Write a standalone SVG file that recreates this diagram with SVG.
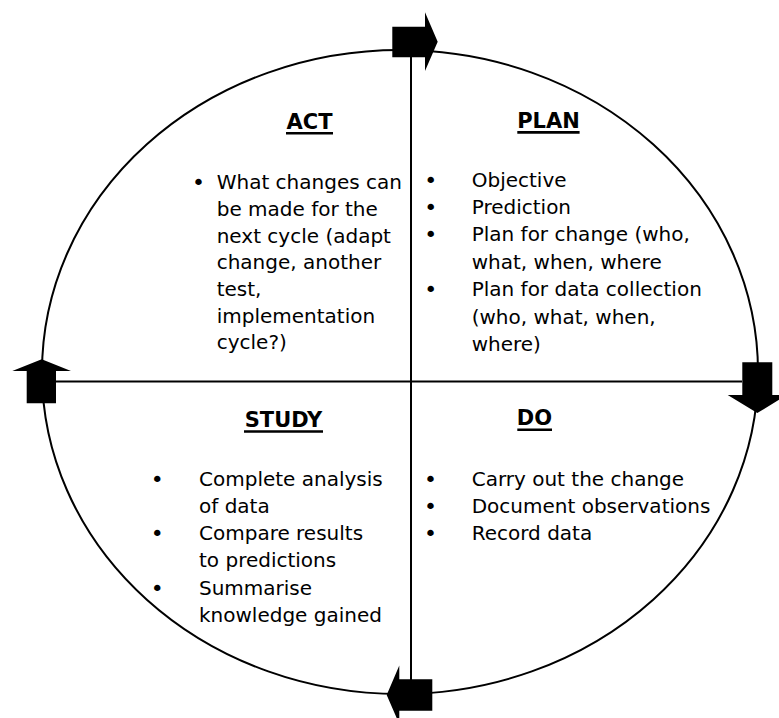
<svg xmlns="http://www.w3.org/2000/svg" width="779" height="718" viewBox="0 0 779 718">
  <style>
    .frame { fill: none; stroke: #000; stroke-width: 2; }
    .axis { stroke: #000; stroke-width: 2; }
    .arrow { fill: #000; stroke: none; }
    .title { font-family: "DejaVu Sans", Verdana, sans-serif; font-size: 21px; font-weight: bold; fill: #000; text-anchor: middle; }
    .uline { stroke: #000; stroke-width: 2.6; }
    .body { font-family: "DejaVu Sans", Verdana, sans-serif; font-size: 20px; fill: #000; }
    .dot { font-family: "DejaVu Sans", Verdana, sans-serif; font-size: 22px; fill: #000; text-anchor: middle; }
  </style>

  <rect width="779" height="718" fill="#fff"/>

  <!-- cycle outline and quadrant dividers -->
  <g id="frame">
    <ellipse class="frame" cx="400" cy="372" rx="358" ry="322"/>
    <line class="axis" x1="411" y1="57" x2="411" y2="680"/>
    <line class="axis" x1="56" y1="381.5" x2="742" y2="381.5"/>
  </g>

  <!-- clockwise block arrows on the cycle -->
  <g id="connectors">
    <path class="arrow" d="M392.3,26.7 H425 V12.3 L437.7,41.7 L425,71 V57.3 H392.3 Z"/>
    <path class="arrow" d="M742.3,362.3 H772.3 V395 H787 L757.3,413 L727.7,395 H742.3 Z"/>
    <path class="arrow" d="M432.3,679.3 V710.7 H399.3 V724 L386.7,695 L399.3,665.5 V679.3 Z"/>
    <path class="arrow" d="M26.7,403.3 V371 H12.3 L41.7,359.3 L71,371 H56 V403.3 Z"/>
  </g>

  <g id="act">
    <text class="title" x="309.5" y="129.3">ACT</text>
    <line class="uline" x1="286" y1="133.3" x2="333" y2="133.3"/>
    <text class="dot" x="198.5" y="190.3">•</text>
    <text class="body" x="216.7">
      <tspan x="216.7" y="189.3">What changes can</tspan>
      <tspan x="216.7" y="216">be made for the</tspan>
      <tspan x="216.7" y="242.7">next cycle (adapt</tspan>
      <tspan x="216.7" y="269.4">change, another</tspan>
      <tspan x="216.7" y="296">test,</tspan>
      <tspan x="216.7" y="322.7">implementation</tspan>
      <tspan x="216.7" y="349.4">cycle?)</tspan>
    </text>
  </g>

  <g id="plan">
    <text class="title" x="548.5" y="128.3">PLAN</text>
    <line class="uline" x1="517.3" y1="132.4" x2="579.6" y2="132.4"/>
    <text class="dot" x="430.7" y="188">•</text>
    <text class="dot" x="430.7" y="215">•</text>
    <text class="dot" x="430.7" y="242">•</text>
    <text class="dot" x="430.7" y="297">•</text>
    <text class="body">
      <tspan x="471.7" y="187">Objective</tspan>
      <tspan x="471.7" y="214">Prediction</tspan>
      <tspan x="471.7" y="241">Plan for change (who,</tspan>
      <tspan x="471.7" y="268.5">what, when, where</tspan>
      <tspan x="471.7" y="296">Plan for data collection</tspan>
      <tspan x="471.7" y="323.5">(who, what, when,</tspan>
      <tspan x="471.7" y="350.5">where)</tspan>
    </text>
  </g>

  <g id="study">
    <text class="title" x="283.5" y="426.7">STUDY</text>
    <line class="uline" x1="244" y1="431.5" x2="323" y2="431.5"/>
    <text class="dot" x="157.3" y="486.7">•</text>
    <text class="dot" x="157.3" y="541.1">•</text>
    <text class="dot" x="157.3" y="595.5">•</text>
    <text class="body">
      <tspan x="199" y="485.7">Complete analysis</tspan>
      <tspan x="199" y="512.9">of data</tspan>
      <tspan x="199" y="540.1">Compare results</tspan>
      <tspan x="199" y="567.3">to predictions</tspan>
      <tspan x="199" y="594.5">Summarise</tspan>
      <tspan x="199" y="621.7">knowledge gained</tspan>
    </text>
  </g>

  <g id="do">
    <text class="title" x="534.5" y="425">DO</text>
    <line class="uline" x1="517.3" y1="429.8" x2="552" y2="429.8"/>
    <text class="dot" x="430.5" y="486.7">•</text>
    <text class="dot" x="430.5" y="513.9">•</text>
    <text class="dot" x="430.5" y="541.1">•</text>
    <text class="body">
      <tspan x="471.7" y="485.7">Carry out the change</tspan>
      <tspan x="471.7" y="512.9">Document observations</tspan>
      <tspan x="471.7" y="540.1">Record data</tspan>
    </text>
  </g>
</svg>
